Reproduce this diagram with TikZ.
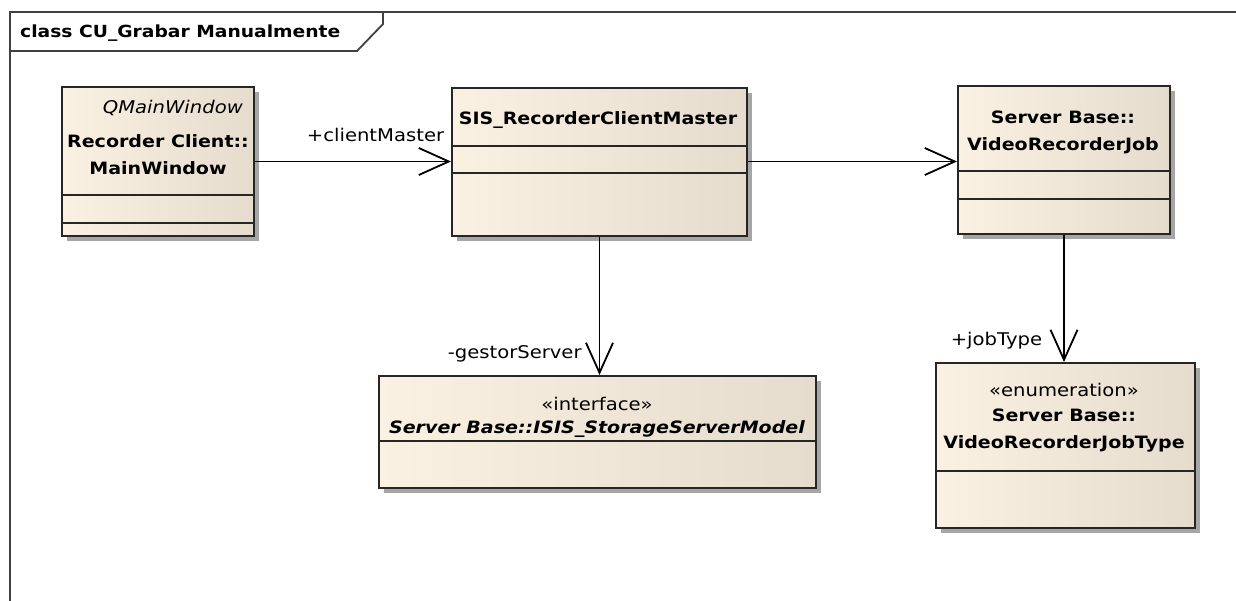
\documentclass[tikz,border=0pt]{standalone}
\usepackage{fontspec}
\setmainfont[FakeStretch=1.12]{DejaVu Sans}
\usepackage{tikz}
\usetikzlibrary{positioning,calc,arrows.meta,shadows}
\definecolor{beigeL}{HTML}{FBF1E3}
\definecolor{beigeR}{HTML}{E5DCCD}
\newcommand*{\clsfont}{\fontsize{17}{27}\selectfont\bfseries}
\newcommand*{\lblfont}{\fontsize{17.5}{21}\selectfont}

\begin{document}
\begin{tikzpicture}[x=1pt,y=-1pt,
  classbox/.style={draw=black!85,line width=2pt,left color=beigeL,
    right color=beigeR,anchor=north west,inner sep=0pt,
    drop shadow={shadow xshift=5pt,shadow yshift=-5pt,fill=black!35,opacity=1}},
  compart/.style={draw=black!85,line width=2pt},
  clsname/.style={font=\clsfont,align=center,inner sep=0pt},
  stereo/.style={font=\lblfont,inner sep=0pt},
  assoc/.style={line width=1.8pt,-{Straight Barb[length=30pt,width=27pt]}},
  rolename/.style={font=\lblfont,inner sep=0pt,anchor=base east}]
\useasboundingbox (0,0) rectangle (1236,601);
% Frame with its name tab
\draw[line width=2.4pt,black!75] (10,601) -- (10,12) -- (1236,12);
\draw[line width=1.8pt,black!75] (383,12) -- (383,24) -- (357,51) -- (10,51);
\node[font=\fontsize{16.7}{20}\selectfont\bfseries,anchor=base west,inner sep=0pt]
  (title) at (20,38) {class CU\_Grabar Manualmente};
% Recorder Client::MainWindow
\node[classbox,minimum width=192pt,minimum height=149pt] (mainwin) at (61,86) {};
\node[stereo,anchor=east,font=\lblfont\itshape] (mainwinS) at (243,108) {QMainWindow};
\node[clsname] (mainwinT) at (158,155) {Recorder Client::\\MainWindow};
\draw[compart] ($(mainwin.north west)+(0,109)$) -- ($(mainwin.north east)+(0,109)$);
\draw[compart] ($(mainwin.north west)+(0,137)$) -- ($(mainwin.north east)+(0,137)$);
% SIS_RecorderClientMaster
\node[classbox,minimum width=295pt,minimum height=148pt] (master) at (451,87) {};
\node[clsname] (masterT) at (598,120) {SIS\_RecorderClientMaster};
\draw[compart] ($(master.north west)+(0,59)$) -- ($(master.north east)+(0,59)$);
\draw[compart] ($(master.north west)+(0,86)$) -- ($(master.north east)+(0,86)$);
% Server Base::VideoRecorderJob
\node[classbox,minimum width=212pt,minimum height=148pt] (job) at (957,85) {};
\node[clsname] (jobT) at (1063,132) {Server Base::\\VideoRecorderJob};
\draw[compart] ($(job.north west)+(0,86)$) -- ($(job.north east)+(0,86)$);
\draw[compart] ($(job.north west)+(0,114)$) -- ($(job.north east)+(0,114)$);
% Server Base::ISIS_StorageServerModel
\node[classbox,minimum width=437pt,minimum height=112pt] (iface) at (378,375) {};
\node[stereo] (ifaceS) at (597,404) {«interface»};
\node[clsname,font=\clsfont\itshape] (ifaceT) at (597,429)
  {Server Base::ISIS\_StorageServerModel};
\draw[compart] ($(iface.north west)+(0,66)$) -- ($(iface.north east)+(0,66)$);
% Server Base::VideoRecorderJobType
\node[classbox,minimum width=259pt,minimum height=165pt] (jobtype) at (935,362) {};
\node[stereo] (jobtypeS) at (1064,390) {«enumeration»};
\node[clsname] (jobtypeT) at (1064,431) {Server Base::\\VideoRecorderJobType};
\draw[compart] ($(jobtype.north west)+(0,109)$) -- ($(jobtype.north east)+(0,109)$);
% Associations
\draw[assoc] (mainwin.east) -- (master.west |- mainwin.east)
  node[rolename,pos=1,xshift=-6pt,yshift=20pt] {+clientMaster};
\draw[assoc] (master.east |- mainwin.east) -- (job.west |- mainwin.east);
\draw[assoc] (master.south) -- (master.south |- iface.north)
  node[rolename,pos=1,xshift=-17pt,yshift=17pt] {-gestorServer};
\draw[assoc] (job.south) -- (job.south |- jobtype.north)
  node[rolename,pos=1,xshift=-21pt,yshift=17pt] {+jobType};
\end{tikzpicture}
\end{document}
